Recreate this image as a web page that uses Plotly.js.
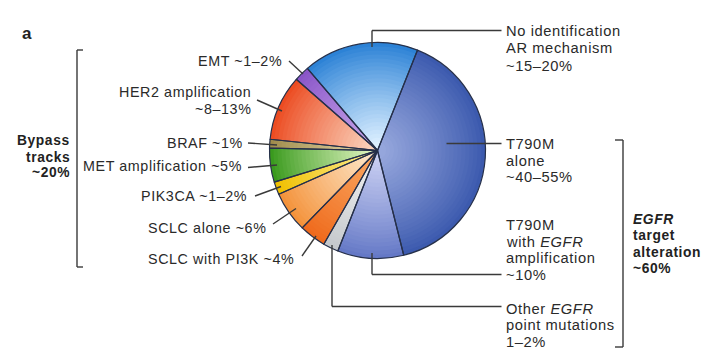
<!DOCTYPE html>
<html>
<head>
<meta charset="utf-8">
<script src="https://cdn.plot.ly/plotly-3.0.1.min.js"></script>
<style>
  html, body { margin: 0; padding: 0; background: #ffffff; }
  #chart { width: 716px; height: 350px; }
  .annotation-text { letter-spacing: 0.6px; }
</style>
</head>
<body>
<div id="chart"></div>
<script>
// ---------------- DATA ----------------
const sliceLabels = [
  "No identification AR mechanism",
  "T790M alone",
  "T790M with EGFR amplification",
  "Other EGFR point mutations",
  "SCLC with PI3K",
  "SCLC alone",
  "PIK3CA",
  "MET amplification",
  "BRAF",
  "HER2 amplification",
  "EMT"
];
const sliceValues = [17.3, 40.1, 9.9, 2.3, 4.0, 6.1, 1.9, 5.1, 1.3, 9.8, 2.3];

const rimColors = [
  "#2c82d6", "#3c5aae", "#6478c6", "#c4c8cc", "#ef6a1c", "#f4923a",
  "#f0c000", "#3a9a1e", "#a08c4c", "#ec4c22", "#8a56c8"
];
const centerColors = [
  "#dcefff", "#95a6dc", "#c9cff2", "#f0f0f0", "#f9a660", "#fde6c8",
  "#fbe98a", "#dcf2bc", "#e2d4a6", "#fad2bc", "#c8a6ea"
];

// left-side labels (text lines)
const leftLabelLines = [
  ["EMT ~1\u20132%"],
  ["HER2 amplification", "~8\u201313%"],
  ["BRAF ~1%"],
  ["MET amplification ~5%"],
  ["PIK3CA ~1\u20132%"],
  ["SCLC alone ~6%"],
  ["SCLC with PI3K ~4%"]
];
// right-side labels (text lines)
const rightLabelLines = [
  ["No identification", "AR mechanism", "~15\u201320%"],
  ["T790M", "alone", "~40\u201355%"],
  ["T790M", "with <i>EGFR</i>", "amplification", "~10%"],
  ["Other <i>EGFR</i>", "point mutations", "1\u20132%"]
];
const bypassLines = ["Bypass", "tracks", "~20%"];
const egfrLines = ["<i>EGFR</i>", "target", "alteration", "~60%"];
const panelLetter = "a";

// ---------------- LAYOUT HELPERS ----------------
const W = 716, H = 350;
const px = x => x / W;
const py = y => 1 - y / H;

const cx = 377.5, cy = 150.5, R = 108;
const startAngle = -40.5;

function hexToRgb(h) {
  const n = parseInt(h.slice(1), 16);
  return [(n >> 16) & 255, (n >> 8) & 255, n & 255];
}
function mix(a, b, t) {
  const A = hexToRgb(a), B = hexToRgb(b);
  const c = A.map((v, i) => Math.round(v + (B[i] - v) * t));
  return `rgb(${c[0]},${c[1]},${c[2]})`;
}

const traces = [];
const N = 26;
for (let k = 0; k < N; k++) {
  const f = 1 - k * (0.92 / (N - 1));
  const r = R * f;
  const t = Math.pow(k / (N - 1), 0.9);
  traces.push({
    type: "pie",
    labels: sliceLabels,
    values: sliceValues,
    sort: false,
    direction: "clockwise",
    rotation: startAngle,
    textinfo: "none",
    hoverinfo: "skip",
    showlegend: false,
    marker: {
      colors: rimColors.map((c, i) => mix(c, centerColors[i], t)),
      line: { width: 0 }
    },
    domain: { x: [px(cx - r), px(cx + r)], y: [py(cy + r), py(cy - r)] }
  });
}
// outline overlay
traces.push({
  type: "pie",
  labels: sliceLabels,
  values: sliceValues,
  sort: false,
  direction: "clockwise",
  rotation: startAngle,
  textinfo: "none",
  hoverinfo: "skip",
  showlegend: false,
  marker: {
    colors: sliceLabels.map(() => "rgba(0,0,0,0)"),
    line: { color: "#26304a", width: 1.2 }
  },
  domain: { x: [px(cx - R), px(cx + R)], y: [py(cy + R), py(cy - R)] }
});

const FONT = "Liberation Sans, Arial, sans-serif";
const TXT = "#2a2a2a";
const LINE = { color: "#3a3a3a", width: 1.4 };

const annotations = [];
const shapes = [];

function addText(x, y, text, anchor, opts = {}) {
  annotations.push({
    xref: "paper", yref: "paper",
    x: px(x), y: py(y),
    xanchor: anchor, yanchor: "middle",
    text: text, showarrow: false,
    borderpad: 0,
    font: Object.assign({ family: FONT, size: 14.3, color: TXT }, opts.font || {}),
    align: anchor === "right" ? "right" : "left"
  });
}
function addLine(x0, y0, x1, y1) {
  shapes.push({
    type: "line", xref: "paper", yref: "paper",
    x0: px(x0), y0: py(y0), x1: px(x1), y1: py(y1),
    line: LINE
  });
}

// panel letter
addText(21, 33, "<b>" + panelLetter + "</b>", "left", { font: { size: 17, color: "#222" } });

// left labels
const leftPos = [
  { x: 283, ys: [61] , line: [289, 61, 303, 74] },
  { x: 252, ys: [92.3, 108.8], line: [257, 100, 282, 111] },
  { x: 243.5, ys: [143], line: [248, 143, 277, 145] },
  { x: 243, ys: [165.5], line: [248, 167.5, 277, 165] },
  { x: 248.5, ys: [196], line: [255, 196, 281, 186.5] },
  { x: 266.5, ys: [227.5], line: [273, 224, 296, 208.5] },
  { x: 295, ys: [259], line: [302, 256, 316, 236] }
];
leftLabelLines.forEach((lines, i) => {
  const p = leftPos[i];
  lines.forEach((ln, j) => addText(p.x, p.ys[j], ln, "right"));
  addLine(...p.line);
});

// right labels
const rightPos = [
  { ys: [30.5, 48, 65.5] },
  { ys: [144, 160.6, 177.2] },
  { ys: [225, 241.6, 258.2, 274.8] },
  { ys: [308.8, 325.4, 342] }
];
rightLabelLines.forEach((lines, i) => {
  lines.forEach((ln, j) => addText(504.5, rightPos[i].ys[j], ln, "left", { font: { size: 14.7 } }));
});
// right leader lines
addLine(372, 47, 372, 30.5); addLine(372, 30.5, 501.5, 30.5);
addLine(446.5, 143.5, 501.5, 143.5);
addLine(372, 253, 372, 274.5); addLine(372, 274.5, 501.5, 274.5);
addLine(332, 245, 332, 306.5); addLine(332, 306.5, 501.5, 306.5);

// left bracket
addLine(77, 50, 77, 267); addLine(77, 50, 83, 50); addLine(77, 267, 83, 267);
const bypassY = [141, 157, 173];
bypassLines.forEach((ln, j) => addText(71, bypassY[j], "<b>" + ln + "</b>", "right", { font: { size: 13.8, color: "#222" } }));

// right bracket
addLine(623, 140, 623, 347); addLine(615, 140, 623, 140); addLine(615, 347, 623, 347);
const egfrY = [219.5, 235.8, 252.1, 268.4];
egfrLines.forEach((ln, j) => addText(631.5, egfrY[j], "<b>" + ln + "</b>", "left", { font: { size: 13.8, color: "#222" } }));

const layout = {
  width: W, height: H,
  margin: { l: 0, r: 0, t: 0, b: 0 },
  paper_bgcolor: "#ffffff",
  plot_bgcolor: "#ffffff",
  showlegend: false,
  annotations: annotations,
  shapes: shapes
};

Plotly.newPlot("chart", traces, layout, { displayModeBar: false, staticPlot: true });
</script>
</body>
</html>
